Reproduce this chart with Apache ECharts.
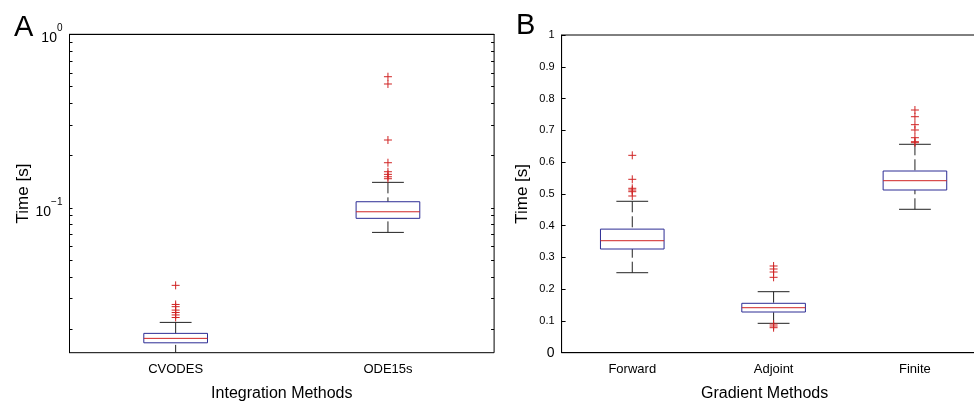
<!DOCTYPE html>
<html><head><meta charset="utf-8">
<script src="https://cdn.jsdelivr.net/npm/echarts@6/dist/echarts.min.js"></script>
<style>html,body{margin:0;padding:0;background:#fff}#c{width:974px;height:405px}</style>
</head><body><div id="c"></div>
<script>
// ---- data (seconds) ----
const leftCategories = ['CVODES', 'ODE15s'];
// [lowerWhisker, q1, median, q3, upperWhisker]
const leftBoxes = [
  [0.0140, 0.01665, 0.01766, 0.01887, 0.02183],
  [0.0721, 0.0869, 0.0948, 0.1083, 0.1401]
];
const leftOutliers = [
  [0, 0.0357], [0, 0.0277], [0, 0.0269], [0, 0.0257], [0, 0.0249], [0, 0.0241], [0, 0.0233],
  [1, 0.5694], [1, 0.517], [1, 0.2458], [1, 0.1818], [1, 0.1613], [1, 0.1558], [1, 0.1509], [1, 0.1470]
];
const leftMajorTicks = [0.1, 1];
const leftMinorTicks = [0.02, 0.03, 0.04, 0.05, 0.06, 0.07, 0.08, 0.09, 0.2, 0.3, 0.4, 0.5, 0.6, 0.7, 0.8, 0.9];
const leftMin = 0.0146, leftMax = 1;

const rightCategories = ['Forward', 'Adjoint', 'Finite'];
const rightBoxes = [
  [0.2518, 0.3264, 0.3525, 0.389, 0.4766],
  [0.0925, 0.1281, 0.1416, 0.1555, 0.192],
  [0.4514, 0.5121, 0.5414, 0.5719, 0.656]
];
const rightOutliers = [
  [0, 0.6213], [0, 0.5458], [0, 0.5175], [0, 0.5121], [0, 0.5068], [0, 0.4932],
  [1, 0.2729], [1, 0.2635], [1, 0.254], [1, 0.2373], [1, 0.0903], [1, 0.084], [1, 0.0787],
  [2, 0.7639], [2, 0.7428], [2, 0.7177], [2, 0.701], [2, 0.6767], [2, 0.6641], [2, 0.661]
];

// ---- helpers ----
const L = v => Math.log10(v);
const FONT = 'Liberation Sans, Arial, Helvetica, sans-serif';
const BLUE = '#2c2c94', RED = '#d02424', WH = '#222';

function boxRenderer(frac) {
  return function (params, api) {
    const x = api.value(0);
    const lo = api.coord([x, api.value(1)]);
    const q1 = api.coord([x, api.value(2)]);
    const md = api.coord([x, api.value(3)]);
    const q3 = api.coord([x, api.value(4)]);
    const hi = api.coord([x, api.value(5)]);
    const band = api.size([1, 0])[0];
    const bw = band * frac, cw = bw / 2;
    const cx = q1[0];
    const dash = {stroke: WH, lineWidth: 1, lineDash: [11, 4]};
    return {
      type: 'group',
      children: [
        {type: 'line', shape: {x1: cx, y1: hi[1], x2: cx, y2: q3[1]}, style: dash},
        {type: 'line', shape: {x1: cx, y1: lo[1], x2: cx, y2: q1[1]}, style: dash},
        {type: 'line', shape: {x1: cx - cw / 2, y1: hi[1], x2: cx + cw / 2, y2: hi[1]}, style: {stroke: WH, lineWidth: 1}},
        {type: 'line', shape: {x1: cx - cw / 2, y1: lo[1], x2: cx + cw / 2, y2: lo[1]}, style: {stroke: WH, lineWidth: 1}},
        {type: 'rect', shape: {x: cx - bw / 2, y: q3[1], width: bw, height: q1[1] - q3[1]}, style: {fill: 'none', stroke: BLUE, lineWidth: 1}},
        {type: 'line', shape: {x1: cx - bw / 2, y1: md[1], x2: cx + bw / 2, y2: md[1]}, style: {stroke: RED, lineWidth: 1}}
      ]
    };
  };
}
function plusRenderer(params, api) {
  const p = api.coord([api.value(0), api.value(1)]);
  const s = 4;
  return {
    type: 'group',
    children: [
      {type: 'line', shape: {x1: p[0] - s, y1: p[1], x2: p[0] + s, y2: p[1]}, style: {stroke: RED, lineWidth: 1}},
      {type: 'line', shape: {x1: p[0], y1: p[1] - s, x2: p[0], y2: p[1] + s}, style: {stroke: RED, lineWidth: 1}}
    ]
  };
}

const leftBoxData = leftBoxes.map((b, i) => [i].concat(b.map(L)));
const leftOutData = leftOutliers.map(o => [o[0], L(o[1])]);
const rightBoxData = rightBoxes.map((b, i) => [i].concat(b));

const axisLineStyle = {show: true, lineStyle: {color: '#000', width: 1}};

const option = {
  animation: false,
  backgroundColor: '#fff',
  title: [
    {text: 'A', left: 9, top: 8, textStyle: {fontFamily: FONT, fontSize: 29, fontWeight: 'normal', color: '#000'}},
    {text: 'B', left: 511, top: 6, textStyle: {fontFamily: FONT, fontSize: 29, fontWeight: 'normal', color: '#000'}}
  ],
  grid: [
    {left: 69.5, top: 34.3, width: 424.6, height: 318.4, show: true, borderColor: '#000', borderWidth: 1,
     backgroundColor: 'transparent', outerBoundsMode: 'none', containLabel: false},
    {left: 561.6, top: 35, width: 424, height: 317.7, show: true, borderColor: '#000', borderWidth: 1,
     backgroundColor: 'transparent', outerBoundsMode: 'none', containLabel: false}
  ],
  xAxis: [
    {type: 'category', gridIndex: 0, data: leftCategories, boundaryGap: true,
     axisLine: axisLineStyle, axisTick: {show: false},
     axisLabel: {fontFamily: FONT, fontSize: 13, color: '#000', margin: 10},
     name: 'Integration Methods', nameLocation: 'middle', nameGap: 33,
     nameTextStyle: {fontFamily: FONT, fontSize: 16, color: '#000'}},
    {type: 'category', gridIndex: 1, data: rightCategories, boundaryGap: true,
     axisLine: axisLineStyle, axisTick: {show: false},
     axisLabel: {fontFamily: FONT, fontSize: 13, color: '#000', margin: 10},
     name: 'Gradient Methods', nameLocation: 'middle', nameGap: 33,
     nameTextStyle: {fontFamily: FONT, fontSize: 16, color: '#000', padding: [0, 18, 0, 0]}}
  ],
  yAxis: [
    {type: 'value', gridIndex: 0, min: L(leftMin), max: L(leftMax),
     axisLine: axisLineStyle, splitLine: {show: false},
     axisTick: {show: true, inside: true, length: 3, lineStyle: {color: '#000'},
                customValues: leftMinorTicks.concat(leftMajorTicks).map(L)},
     axisLabel: {customValues: leftMajorTicks.map(L), margin: 7,
       formatter: v => '{b|10}{s|' + String(Math.round(v)).replace('-', '\u2212') + '}',
       rich: {b: {fontFamily: FONT, fontSize: 14, color: '#000', verticalAlign: 'bottom', lineHeight: 22},
              s: {fontFamily: FONT, fontSize: 10, color: '#000', verticalAlign: 'top', lineHeight: 22}}},
     name: 'Time [s]', nameLocation: 'middle', nameGap: 34, nameRotate: 90,
     nameTextStyle: {fontFamily: FONT, fontSize: 17, color: '#000'}},
    {type: 'value', gridIndex: 0, position: 'right', min: L(leftMin), max: L(leftMax),
     axisLine: {show: false}, splitLine: {show: false}, axisLabel: {show: false},
     axisTick: {show: true, inside: true, length: 3, lineStyle: {color: '#000'},
                customValues: leftMinorTicks.concat(leftMajorTicks).map(L)}},
    {type: 'value', gridIndex: 1, min: 0, max: 1, interval: 0.1,
     axisLine: axisLineStyle, splitLine: {show: false},
     axisTick: {show: true, inside: true, length: 4, lineStyle: {color: '#000'}},
     axisLabel: {fontFamily: FONT, fontSize: 11, color: '#000', margin: 7,
                 formatter: v => v === 0 ? '{z|0}' : String(Math.round(v * 10) / 10),
                 rich: {z: {fontFamily: FONT, fontSize: 14, color: '#000'}}},
     name: 'Time [s]', nameLocation: 'middle', nameGap: 31, nameRotate: 90,
     nameTextStyle: {fontFamily: FONT, fontSize: 17, color: '#000'}}
  ],
  series: [
    {type: 'custom', xAxisIndex: 0, yAxisIndex: 0, clip: true, data: leftBoxData, renderItem: boxRenderer(0.3)},
    {type: 'custom', xAxisIndex: 0, yAxisIndex: 0, clip: true, data: leftOutData, renderItem: plusRenderer},
    {type: 'custom', xAxisIndex: 1, yAxisIndex: 2, clip: true, data: rightBoxData, renderItem: boxRenderer(0.45)},
    {type: 'custom', xAxisIndex: 1, yAxisIndex: 2, clip: true, data: rightOutliers, renderItem: plusRenderer}
  ]
};
const chart = echarts.init(document.getElementById('c'), null, {renderer: 'canvas'});
chart.setOption(option);
</script>
</body></html>
